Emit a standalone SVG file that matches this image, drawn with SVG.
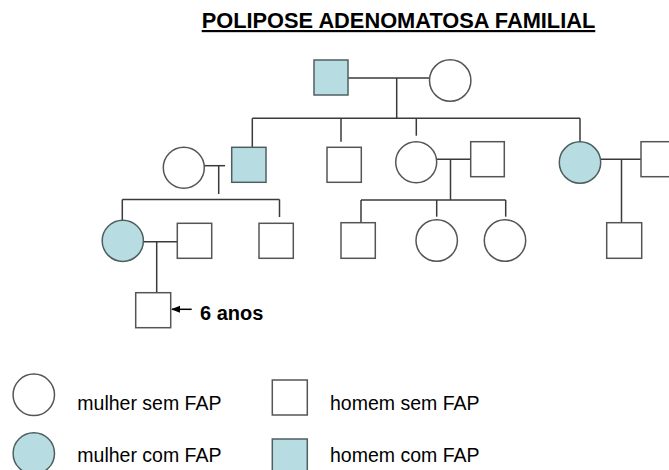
<svg xmlns="http://www.w3.org/2000/svg" width="669" height="470" viewBox="0 0 669 470">
<style>
.m{fill:#ffffff;stroke:#555555;stroke-width:1.5}
.a{fill:#b7dde2;stroke:#4f5f60;stroke-width:1.5}
.ln{stroke:#3a3a3a;stroke-width:1.5;fill:none}
.t{font-family:"Liberation Sans",Arial,sans-serif;fill:#000000}
.lg{font-size:19.5px}
</style>
<defs>
<marker id="ah" viewBox="0 0 10 10" refX="9" refY="5" markerWidth="6" markerHeight="6" orient="auto"><path d="M0,1 L10,5 L0,9 z" fill="#000"/></marker>
</defs>
<rect width="669" height="470" fill="#ffffff"/>
<g id="title"><text class="t" x="398.5" y="28" font-size="21.8" font-weight="bold" text-anchor="middle" text-decoration="underline">POLIPOSE ADENOMATOSA FAMILIAL</text></g>

<g id="connectors">
<!-- gen1 -->
<line class="ln" x1="348" y1="78" x2="429" y2="78"/>
<line class="ln" x1="396.7" y1="78" x2="396.7" y2="118.3"/>
<line class="ln" x1="252.3" y1="118.3" x2="580" y2="118.3"/>
<line class="ln" x1="252.3" y1="118.3" x2="252.3" y2="147.3"/>
<line class="ln" x1="341" y1="118.3" x2="341" y2="141.7"/>
<line class="ln" x1="416.3" y1="118.3" x2="416.3" y2="135.7"/>
<line class="ln" x1="580" y1="118.3" x2="580" y2="142"/>
<!-- gen2 left couple -->
<line class="ln" x1="204.3" y1="165.7" x2="225" y2="165.7"/>
<line class="ln" x1="218.7" y1="165.7" x2="218.7" y2="194"/>
<line class="ln" x1="122.3" y1="199.5" x2="279.5" y2="199.5"/>
<line class="ln" x1="122.3" y1="199.5" x2="122.3" y2="220"/>
<line class="ln" x1="279.5" y1="199.5" x2="279.5" y2="217"/>
<!-- gen2 middle couple -->
<line class="ln" x1="436.7" y1="159.3" x2="470.7" y2="159.3"/>
<line class="ln" x1="450.5" y1="159.3" x2="450.5" y2="200"/>
<line class="ln" x1="361" y1="200" x2="505.7" y2="200"/>
<line class="ln" x1="361" y1="200" x2="361" y2="222.7"/>
<line class="ln" x1="436.7" y1="200" x2="436.7" y2="216.7"/>
<line class="ln" x1="505.7" y1="200" x2="505.7" y2="216.7"/>
<!-- gen2 right couple -->
<line class="ln" x1="600.7" y1="159.3" x2="641" y2="159.3"/>
<line class="ln" x1="621.5" y1="159.3" x2="621.5" y2="222.7"/>
<!-- gen3 couple -->
<line class="ln" x1="143.3" y1="241.7" x2="177.3" y2="241.7"/>
<line class="ln" x1="156.7" y1="241.7" x2="156.7" y2="292.7"/>
<!-- age arrow -->
<line x1="191.7" y1="309.3" x2="172" y2="309.3" stroke="#000" stroke-width="1.5" marker-end="url(#ah)"/>
</g>

<!-- generation 1 -->
<g id="g1-father"><rect class="a" x="314" y="60" width="34" height="35"/></g>
<g id="g1-mother"><circle class="m" cx="450.2" cy="80.5" r="20.7"/></g>

<!-- generation 2 -->
<g id="g2-wife1"><circle class="m" cx="183.8" cy="167.8" r="20.5"/></g>
<g id="g2-son1"><rect class="a" x="231.7" y="147.3" width="34.3" height="35"/></g>
<g id="g2-son2"><rect class="m" x="327" y="147.3" width="34.3" height="35"/></g>
<g id="g2-daughter1"><circle class="m" cx="416.2" cy="162.2" r="20.5"/></g>
<g id="g2-husband1"><rect class="m" x="470.7" y="141.7" width="33.6" height="35"/></g>
<g id="g2-daughter2"><circle class="a" cx="580" cy="162.5" r="20.7"/></g>
<g id="g2-husband2"><rect class="m" x="641" y="141.7" width="34" height="35"/></g>

<!-- generation 3 -->
<g id="g3-daughter1"><circle class="a" cx="122.8" cy="240.8" r="20.6"/></g>
<g id="g3-husband1"><rect class="m" x="177.3" y="223.3" width="34.4" height="35"/></g>
<g id="g3-son1"><rect class="m" x="259" y="223.3" width="34.3" height="35"/></g>
<g id="g3-son2"><rect class="m" x="341" y="222.7" width="34.3" height="35.6"/></g>
<g id="g3-daughter2"><circle class="m" cx="436.7" cy="240.5" r="20.7"/></g>
<g id="g3-daughter3"><circle class="m" cx="505" cy="240.5" r="20.7"/></g>
<g id="g3-son3"><rect class="m" x="606.7" y="222.7" width="35" height="35.6"/></g>

<!-- generation 4 -->
<g id="g4-son1"><rect class="m" x="135.7" y="292.7" width="35" height="35"/></g>
<g id="age-label"><text class="t" x="200" y="320" font-size="20" font-weight="bold">6 anos</text></g>

<!-- legend -->
<g id="legend-female-unaffected">
<circle class="m" cx="33.8" cy="394.8" r="20.7"/>
<text class="t lg" x="77.3" y="410">mulher sem FAP</text>
</g>
<g id="legend-male-unaffected">
<rect class="m" x="272.3" y="380" width="35" height="35"/>
<text class="t lg" x="330" y="410">homem sem FAP</text>
</g>
<g id="legend-female-affected">
<circle class="a" cx="33.8" cy="453.4" r="20.7"/>
<text class="t lg" x="77.3" y="461.7">mulher com FAP</text>
</g>
<g id="legend-male-affected">
<rect class="a" x="272.3" y="439" width="35" height="35"/>
<text class="t lg" x="330" y="461.7">homem com FAP</text>
</g>
</svg>
